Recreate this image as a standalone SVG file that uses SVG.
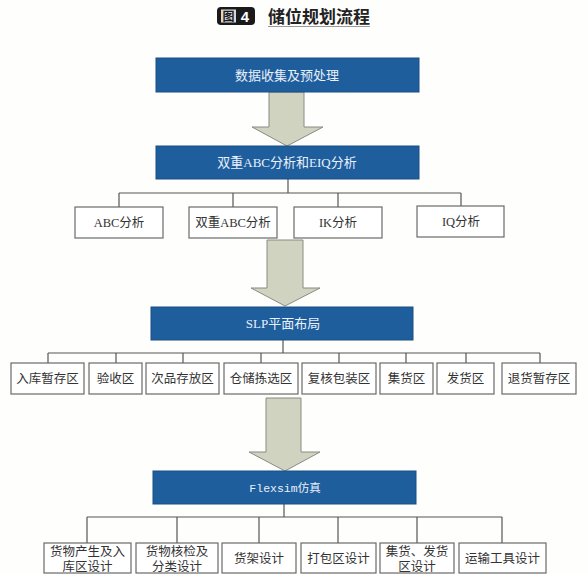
<svg xmlns="http://www.w3.org/2000/svg" width="588" height="574" viewBox="0 0 588 574">
<style>
.bg{fill:#fefefc}
.main rect{fill:#1f5e9d;stroke:#1a4f85;stroke-width:1}
.main text{fill:#e8f0fa;font-family:"Liberation Serif","Noto Sans CJK SC",serif;font-size:13px;text-anchor:middle}
.sub rect{fill:#ffffff;stroke:#6a6a6a;stroke-width:1.2}
.sub text{fill:#333333;font-family:"Liberation Serif","Noto Sans CJK SC",serif;font-size:12.5px;text-anchor:middle}
.arrow{fill:#d0d3bf;stroke:#8a8a84;stroke-width:1}
.conn{fill:none;stroke:#555555;stroke-width:1.2}
.mono{font-family:"Liberation Mono","Noto Sans CJK SC",monospace !important;font-size:11.5px !important}
</style>
<rect class="bg" x="0" y="0" width="588" height="574"/>

<g id="title">
  <rect x="217" y="7" width="38" height="18" rx="4" fill="#1a1a1a"/>
  <rect x="221" y="9.5" width="15" height="13" fill="#d8d8d8"/>
  <text x="228.5" y="21" font-family="Noto Sans CJK SC, sans-serif" font-size="12" font-weight="bold" fill="#1a1a1a" text-anchor="middle">图</text>
  <text x="245" y="22" font-family="Liberation Sans, sans-serif" font-size="15" font-weight="bold" fill="#ffffff" text-anchor="middle">4</text>
  <text x="319" y="23" font-family="Noto Sans CJK SC, sans-serif" font-size="17" font-weight="bold" fill="#222222" text-anchor="middle">储位规划流程</text>
  <line x1="268" y1="26.5" x2="370" y2="26.5" stroke="#9a9a9a" stroke-width="1.2"/>
</g>

<g id="arrows">
  <polygon class="arrow" points="269,92 304,92 304,127 323,127 287,146 252,127 269,127"/>
  <polygon class="arrow" points="267,240 303,240 303,288 320,288 285,306 251,288 267,288"/>
  <polygon class="arrow" points="266,398 301,398 301,452 320,452 285,471 249,452 266,452"/>
</g>

<g id="connectors">
  <path class="conn" d="M288,179V193M119,193H461M119,193V207M233,193V207M338,193V207M461,193V207"/>
  <path class="conn" d="M283,340V353M48,353H540M48,353V363M116,353V363M183,353V363M261,353V363M339,353V363M406,353V363M466,353V363M540,353V363"/>
  <path class="conn" d="M284,504V517M87,517H502M87,517V543M177,517V543M259,517V543M338,517V543M417,517V543M502,517V543"/>
</g>

<g id="n-data" class="main"><rect x="156" y="58" width="263" height="34"/><text x="287" y="79.5">数据收集及预处理</text></g>
<g id="n-abc-eiq" class="main"><rect x="156" y="146" width="263" height="33"/><text x="287" y="167">双重ABC分析和EIQ分析</text></g>
<g id="n-slp" class="main"><rect x="151" y="307" width="262" height="33"/><text x="283" y="328">SLP平面布局</text></g>
<g id="n-flexsim" class="main"><rect x="153" y="471" width="263" height="33"/><text class="mono" x="285" y="492">Flexsim仿真</text></g>

<g id="n-abc" class="sub"><rect x="75" y="207" width="88" height="31"/><text x="119" y="227">ABC分析</text></g>
<g id="n-dabc" class="sub"><rect x="189" y="207" width="88" height="31"/><text x="233" y="227">双重ABC分析</text></g>
<g id="n-ik" class="sub"><rect x="294" y="207" width="88" height="31"/><text x="338" y="227">IK分析</text></g>
<g id="n-iq" class="sub"><rect x="417" y="206" width="87" height="31"/><text x="461" y="226">IQ分析</text></g>

<g id="n-z1" class="sub"><rect x="11" y="363" width="73" height="31"/><text x="47.5" y="383">入库暂存区</text></g>
<g id="n-z2" class="sub"><rect x="89" y="363" width="53" height="31"/><text x="115.5" y="383">验收区</text></g>
<g id="n-z3" class="sub"><rect x="146" y="363" width="73" height="31"/><text x="182.5" y="383">次品存放区</text></g>
<g id="n-z4" class="sub"><rect x="224" y="363" width="74" height="31"/><text x="261" y="383">仓储拣选区</text></g>
<g id="n-z5" class="sub"><rect x="302" y="363" width="74" height="31"/><text x="339" y="383">复核包装区</text></g>
<g id="n-z6" class="sub"><rect x="380" y="363" width="53" height="31"/><text x="406.5" y="383">集货区</text></g>
<g id="n-z7" class="sub"><rect x="437" y="363" width="57" height="31"/><text x="465.5" y="383">发货区</text></g>
<g id="n-z8" class="sub"><rect x="502" y="363" width="74" height="31"/><text x="539" y="383">退货暂存区</text></g>

<g id="n-s1" class="sub"><rect x="44" y="543" width="87" height="30"/><text x="87.5" y="556">货物产生及入</text><text x="87.5" y="571">库区设计</text></g>
<g id="n-s2" class="sub"><rect x="136" y="543" width="82" height="30"/><text x="177" y="556">货物核检及</text><text x="177" y="571">分类设计</text></g>
<g id="n-s3" class="sub"><rect x="222" y="543" width="74" height="30"/><text x="259" y="563">货架设计</text></g>
<g id="n-s4" class="sub"><rect x="301" y="543" width="75" height="30"/><text x="338.5" y="563">打包区设计</text></g>
<g id="n-s5" class="sub"><rect x="380" y="543" width="74" height="30"/><text x="417" y="556">集货、发货</text><text x="417" y="571">区设计</text></g>
<g id="n-s6" class="sub"><rect x="459" y="543" width="87" height="30"/><text x="502.5" y="563">运输工具设计</text></g>
</svg>
